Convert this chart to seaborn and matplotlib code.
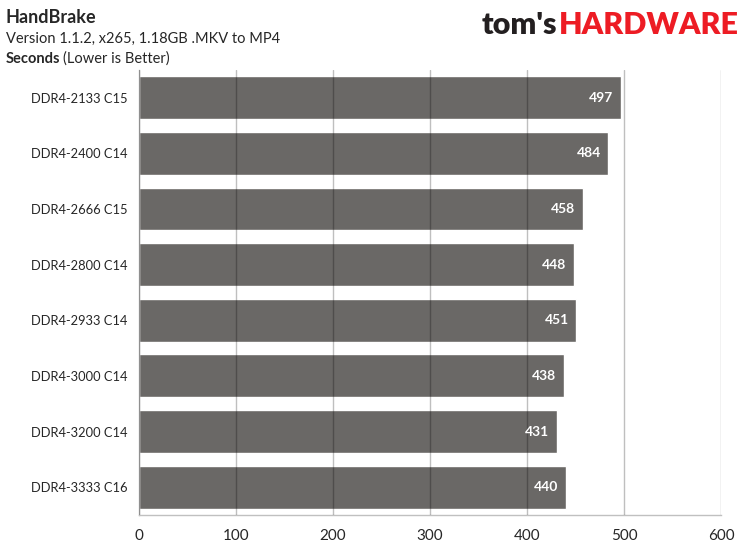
import numpy as np
import pandas as pd
import matplotlib
matplotlib.use("Agg")
import matplotlib.pyplot as plt
import seaborn as sns

# chart data
configs = ["DDR4-2133 C15", "DDR4-2400 C14", "DDR4-2666 C15", "DDR4-2800 C14",
           "DDR4-2933 C14", "DDR4-3000 C14", "DDR4-3200 C14", "DDR4-3333 C16"]
seconds = [497, 484, 458, 448, 451, 438, 431, 440]
x_ticks = [0, 100, 200, 300, 400, 500, 600]

df = pd.DataFrame({"config": configs, "seconds": seconds})

sns.set_style("white")
plt.rcParams["font.family"] = ["Lato", "DejaVu Sans"]

fig = plt.figure(figsize=(7.44, 5.49), dpi=100)
ax = fig.add_axes([0.1868, 0.062, 0.7823, 0.8105])

sns.barplot(data=df, y="config", x="seconds", orient="h", color="#6a6866",
            saturation=1, width=0.77, ax=ax, zorder=2)

ax.set_xlim(0, 600)
ax.set_ylim(len(configs) - 0.5, -0.5)
ax.set_xticks(x_ticks)
ax.set_xticks(np.arange(0, 601, 20), minor=True)
ax.set_xticklabels([str(t) for t in x_ticks], fontsize=11)
ax.tick_params(axis="x", which="major", length=0, pad=10)
ax.tick_params(axis="x", which="minor", direction="in", length=4, color="#c0c0c0", width=1)

# category separators as y ticks
ax.set_yticks(np.arange(len(configs)))
ax.set_yticklabels(configs, fontsize=9.3)
ax.set_yticks(np.arange(-0.5, len(configs), 1), minor=True)
ax.tick_params(axis="y", which="major", length=0, pad=8)
ax.tick_params(axis="y", which="minor", direction="out", length=5, color="#c0c0c0", width=1)

ax.grid(axis="x", which="major", color="black", alpha=0.25, linewidth=1, zorder=3)
ax.set_axisbelow(False)
for b in ax.patches:
    b.set_zorder(2)
for gl in ax.get_xgridlines():
    gl.set_zorder(3)

for side in ["top", "right"]:
    ax.spines[side].set_visible(False)
for side in ["left", "bottom"]:
    ax.spines[side].set_color("#c0c0c0")
    ax.spines[side].set_linewidth(1)
ax.set_xlabel("")
ax.set_ylabel("")

for i, v in enumerate(seconds):
    ax.text(v - 8, i, str(v), color="white", fontsize=10, fontweight="bold",
            ha="right", va="center", zorder=4)

# header text
fig.text(0.008, 0.968, "HandBrake", fontsize=13, fontweight="bold", va="center")
fig.text(0.008, 0.930, "Version 1.1.2, x265, 1.18GB .MKV to MP4", fontsize=10.5, va="center")
t = fig.text(0.008, 0.893, "Seconds", fontsize=10.5, fontweight="bold", va="center")
fig.canvas.draw()
bb = t.get_window_extent()
fig.text(bb.x1 / fig.bbox.width + 0.004, 0.893, "(Lower is Better)", fontsize=10.5, va="center")

# logo
lg = fig.text(0.647, 0.955, "tom's", fontsize=22, fontweight="heavy", color="#231f20", va="center")
fig.canvas.draw()
lb = lg.get_window_extent()
fig.text(lb.x1 / fig.bbox.width + 0.003, 0.955, "HARDWARE", fontsize=22, fontweight="heavy",
         color="#ed1c24", va="center")

fig.savefig("out.png", dpi=100)
